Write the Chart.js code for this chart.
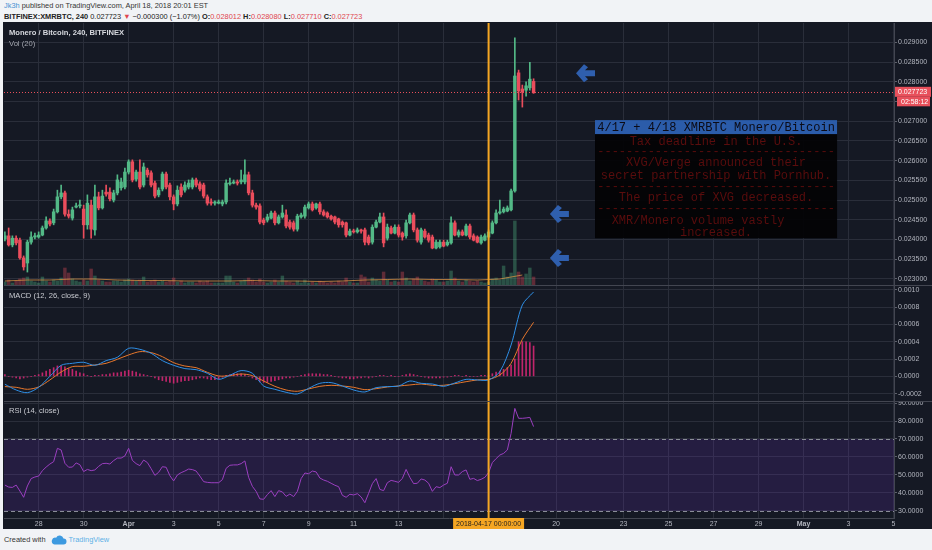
<!DOCTYPE html>
<html>
<head>
<meta charset="utf-8">
<script src="https://cdn.jsdelivr.net/npm/chart.js@4.4.0/dist/chart.umd.min.js"></script>
<style>
html, body { margin: 0; padding: 0; width: 932px; height: 550px; overflow: hidden; background: #f1f3f6; font-family: "Liberation Sans", Arial, sans-serif; }
#h1 { position: absolute; left: 4px; top: 1px; font-size: 7.4px; color: #333; white-space: nowrap; }
#h2 { position: absolute; left: 4px; top: 12px; font-size: 7.4px; color: #222; white-space: nowrap; }
#h2 .r { color: #e0464e; }
#frame { position: absolute; left: 3px; top: 22px; width: 929px; height: 507px; background: #151924; }
.pane { position: absolute; left: 4px; width: 928px; }
#pricePane { top: 23px; height: 263px; }
#macdPane { top: 286px; height: 116px; }
#rsiPane { top: 402px; height: 127px; }
#foot { position: absolute; left: 4px; top: 535px; font-size: 7.4px; color: #333; white-space: nowrap; }
#foot svg { vertical-align: middle; margin: 0 2px 0 5px; }
#foot .tv { color: #5cb0e6; }
</style>
</head>
<body>
<div id="h1"><span style="color:#3f8fd2">Jk3h</span> published on TradingView.com, April 18, 2018 20:01 EST</div>
<div id="h2"><b>BITFINEX:XMRBTC, 240</b> 0.027723 <span class="r">▼</span> −0.000300 (−1.07%) <b>O:</b><span class="r">0.028012</span> <b>H:</b><span class="r">0.028080</span> <b>L:</b><span class="r">0.027710</span> <b>C:</b><span class="r">0.027723</span></div>
<div id="frame"></div>
<div class="pane" id="pricePane"><canvas id="price"></canvas></div>
<div class="pane" id="macdPane"><canvas id="macd"></canvas></div>
<div class="pane" id="rsiPane"><canvas id="rsi"></canvas></div>
<div id="foot">Created with<svg width="16" height="10" viewBox="0 0 16 10"><path d="M3.5 9.5h9a3 3 0 0 0 0-6 4 4 0 0 0-7.4-.8A3.2 3.2 0 0 0 3.5 9.5z" fill="#3d9ae0"/></svg><span class="tv">TradingView</span></div>

<script>
// days counted from 2018-03-26 00:00, one candle every 4 hours
const firstCandleDay = 0.5;
const candleStep = 1 / 6;

const opens = [
  0.02401,0.02409,0.02386,0.02403,0.02398,0.02353,0.02340,0.02393,0.02406,0.02406,
  0.02411,0.02429,0.02447,0.02442,0.02470,0.02508,0.02518,0.02464,0.02454,0.02482,
  0.02485,0.02477,0.02437,0.02487,0.02424,0.02508,0.02480,0.02520,0.02520,0.02500,
  0.02518,0.02531,0.02533,0.02571,0.02597,0.02553,0.02571,0.02538,0.02576,0.02569,
  0.02543,0.02513,0.02528,0.02566,0.02538,0.02508,0.02490,0.02533,0.02525,0.02533,
  0.02533,0.02551,0.02541,0.02538,0.02508,0.02495,0.02492,0.02492,0.02490,0.02495,
  0.02541,0.02543,0.02546,0.02546,0.02546,0.02564,0.02518,0.02487,0.02485,0.02449,
  0.02449,0.02454,0.02467,0.02442,0.02457,0.02462,0.02444,0.02442,0.02426,0.02457,
  0.02459,0.02480,0.02490,0.02480,0.02490,0.02470,0.02467,0.02459,0.02457,0.02452,
  0.02444,0.02442,0.02411,0.02421,0.02419,0.02424,0.02424,0.02406,0.02393,0.02431,
  0.02444,0.02457,0.02403,0.02429,0.02416,0.02431,0.02416,0.02409,0.02442,0.02462,
  0.02424,0.02393,0.02421,0.02411,0.02406,0.02378,0.02381,0.02393,0.02386,0.02391,
  0.02442,0.02411,0.02419,0.02411,0.02434,0.02409,0.02406,0.02391,0.02398,0.02406,
  0.02416,0.02442,0.02467,0.02470,0.02472,0.02475,0.02523,0.02823,0.02782,0.02779,
  0.02785,0.028012
];
const highs = [
  0.02419,0.02429,0.02409,0.02409,0.02403,0.02358,0.02398,0.02419,0.02416,0.02419,
  0.02434,0.02457,0.02452,0.02477,0.02525,0.02538,0.02523,0.02475,0.02482,0.02492,
  0.02500,0.02487,0.02513,0.02500,0.02538,0.02520,0.02525,0.02538,0.02531,0.02525,
  0.02564,0.02556,0.02581,0.02602,0.02602,0.02576,0.02602,0.02594,0.02581,0.02574,
  0.02548,0.02531,0.02571,0.02571,0.02543,0.02513,0.02536,0.02541,0.02546,0.02551,
  0.02556,0.02556,0.02546,0.02543,0.02513,0.02503,0.02498,0.02500,0.02500,0.02551,
  0.02556,0.02551,0.02551,0.02576,0.02602,0.02571,0.02525,0.02492,0.02490,0.02454,
  0.02464,0.02472,0.02472,0.02462,0.02487,0.02475,0.02449,0.02447,0.02464,0.02467,
  0.02487,0.02495,0.02495,0.02492,0.02495,0.02475,0.02470,0.02462,0.02459,0.02454,
  0.02447,0.02444,0.02426,0.02426,0.02429,0.02426,0.02429,0.02411,0.02437,0.02449,
  0.02467,0.02467,0.02439,0.02434,0.02437,0.02437,0.02419,0.02449,0.02467,0.02467,
  0.02429,0.02429,0.02426,0.02416,0.02411,0.02398,0.02398,0.02398,0.02398,0.02457,
  0.02447,0.02424,0.02424,0.02439,0.02439,0.02414,0.02409,0.02411,0.02414,0.02424,
  0.02447,0.02475,0.02500,0.02482,0.02485,0.02528,0.02912,0.02830,0.02792,0.02800,
  0.02850,0.028080
];
const lows = [
  0.02396,0.02383,0.02381,0.02386,0.02350,0.02322,0.02317,0.02388,0.02401,0.02403,
  0.02409,0.02426,0.02434,0.02437,0.02467,0.02503,0.02459,0.02454,0.02449,0.02480,
  0.02480,0.02403,0.02426,0.02403,0.02411,0.02475,0.02477,0.02510,0.02498,0.02495,
  0.02513,0.02525,0.02528,0.02566,0.02546,0.02548,0.02528,0.02533,0.02558,0.02533,
  0.02505,0.02508,0.02523,0.02528,0.02500,0.02475,0.02485,0.02508,0.02520,0.02528,
  0.02528,0.02533,0.02523,0.02505,0.02487,0.02487,0.02487,0.02490,0.02485,0.02490,
  0.02538,0.02541,0.02538,0.02541,0.02541,0.02513,0.02482,0.02477,0.02439,0.02437,
  0.02444,0.02452,0.02437,0.02439,0.02454,0.02429,0.02426,0.02421,0.02421,0.02454,
  0.02454,0.02477,0.02472,0.02477,0.02464,0.02459,0.02454,0.02449,0.02439,0.02431,
  0.02431,0.02406,0.02409,0.02416,0.02416,0.02416,0.02386,0.02386,0.02388,0.02429,
  0.02442,0.02381,0.02398,0.02414,0.02414,0.02406,0.02398,0.02403,0.02439,0.02419,
  0.02393,0.02388,0.02403,0.02393,0.02376,0.02376,0.02378,0.02381,0.02383,0.02388,
  0.02409,0.02406,0.02409,0.02409,0.02401,0.02396,0.02391,0.02388,0.02396,0.02403,
  0.02414,0.02439,0.02464,0.02467,0.02470,0.02472,0.02520,0.02754,0.02736,0.02764,
  0.02779,0.027710
];
const closes = [
  0.02409,0.02386,0.02403,0.02391,0.02353,0.02330,0.02393,0.02406,0.02409,0.02411,
  0.02429,0.02447,0.02439,0.02470,0.02508,0.02518,0.02464,0.02459,0.02475,0.02485,
  0.02487,0.02437,0.02492,0.02426,0.02508,0.02480,0.02510,0.02515,0.02503,0.02518,
  0.02551,0.02546,0.02571,0.02597,0.02551,0.02571,0.02533,0.02584,0.02564,0.02538,
  0.02510,0.02525,0.02566,0.02533,0.02508,0.02490,0.02525,0.02513,0.02538,0.02543,
  0.02551,0.02538,0.02528,0.02510,0.02492,0.02492,0.02495,0.02495,0.02495,0.02543,
  0.02543,0.02546,0.02543,0.02551,0.02564,0.02518,0.02487,0.02482,0.02444,0.02442,
  0.02457,0.02467,0.02442,0.02457,0.02467,0.02434,0.02431,0.02426,0.02459,0.02462,
  0.02482,0.02490,0.02475,0.02490,0.02470,0.02462,0.02457,0.02452,0.02444,0.02437,
  0.02437,0.02411,0.02421,0.02419,0.02424,0.02421,0.02393,0.02391,0.02431,0.02444,
  0.02457,0.02391,0.02431,0.02416,0.02431,0.02411,0.02406,0.02442,0.02462,0.02424,
  0.02398,0.02424,0.02406,0.02398,0.02378,0.02393,0.02393,0.02383,0.02393,0.02442,
  0.02411,0.02419,0.02411,0.02434,0.02406,0.02398,0.02393,0.02406,0.02409,0.02419,
  0.02442,0.02467,0.02470,0.02477,0.02480,0.02523,0.02815,0.02777,0.02774,0.02790,
  0.02807,0.027723
];
// volume in thousand XMR
const volumesK = [
  4,6,3,5,7,8,9,5,4,3,
  9,5,4,6,5,8,18,13,7,5,
  4,6,5,17,10,6,5,4,4,5,
  5,4,6,7,6,5,6,9,4,5,
  6,4,5,4,5,8,4,5,3,4,
  4,3,5,4,5,3,3,3,3,10,
  10,4,3,5,6,8,6,4,7,4,
  3,4,6,4,10,5,4,3,5,3,
  6,3,4,3,5,4,3,4,3,5,
  4,8,4,3,3,11,9,4,8,6,
  5,14,6,4,5,4,14,8,5,7,
  9,6,5,4,7,6,4,4,5,15,
  8,5,4,6,5,4,5,4,3,4,
  7,8,6,20,9,13,65,14,9,12,
  18,9
];
// Vol (20) average, one value per day
const volMaK = [5,6,6,7,7,6,5.5,5.5,5,5,5,5.5,5,5,4.5,5,6,6.5,7,6.5,6.5,6,7,11];

// MACD and signal, one value every 3 candles (12 h)
const macdLine = [
  -0.000092,-0.000158,-0.000189,-0.000127,0,0.000127,0.000150,0.000162,0.000127,0.000181,
  0.000220,0.000324,0.000312,0.000266,0.000181,0.000127,0.000089,0.000077,0.000035,-0.000035,
  0.000012,0.000066,0.000035,-0.000112,-0.000150,-0.000185,-0.000204,-0.000139,-0.000081,-0.000073,
  -0.000112,-0.000158,-0.000181,-0.000131,-0.000119,-0.000112,-0.000054,-0.000081,-0.000089,-0.000116,
  -0.000077,-0.000035,-0.000042,-0.000042,0.000054,0.000362,0.000825,0.000975
];
const signalLine = [
  -0.000119,-0.000127,-0.000150,-0.000123,-0.000042,0.000050,0.000112,0.000116,0.000131,0.000150,
  0.000197,0.000247,0.000285,0.000274,0.000227,0.000158,0.000119,0.000100,0.000046,0.000004,
  0.000008,0.000027,0.000008,-0.000054,-0.000116,-0.000158,-0.000173,-0.000146,-0.000116,-0.000104,
  -0.000112,-0.000127,-0.000154,-0.000143,-0.000123,-0.000112,-0.000100,-0.000089,-0.000104,-0.000104,
  -0.000085,-0.000062,-0.000042,-0.000035,0.000015,0.000150,0.000428,0.000624
];
// histogram, one value per candle
const macdHist = [
  0.00002,0,-0.00001,-0.00002,-0.00003,-0.00002,-0.00001,0,0.00001,0.00002,
  0.00004,0.00006,0.00008,0.00010,0.00012,0.00012,0.00011,0.00009,0.00008,0.00006,
  0.00004,0.00003,0.00001,0,0.00001,0.00001,0.00002,0.00002,0.00003,0.00004,
  0.00004,0.00005,0.00006,0.00007,0.00006,0.00005,0.00003,0.00002,0.00001,0,
  -0.00002,-0.00004,-0.00005,-0.00006,-0.00007,-0.00008,-0.00007,-0.00006,-0.00005,-0.00005,
  -0.00004,-0.00003,-0.00002,-0.00002,-0.00003,-0.00004,-0.00004,-0.00003,-0.00001,0.00001,
  0.00002,0.00003,0.00003,0.00003,0.00002,0,-0.00002,-0.00004,-0.00006,-0.00007,
  -0.00007,-0.00006,-0.00005,-0.00004,-0.00003,-0.00002,-0.00002,-0.00001,0,0.00001,
  0.00002,0.00003,0.00003,0.00003,0.00003,0.00002,0.00002,0.00001,0,-0.00001,
  -0.00002,-0.00002,-0.00003,-0.00003,-0.00002,-0.00002,-0.00001,-0.00002,-0.00001,0,
  0.00001,0.00001,0,0.00001,0,0,0.00001,0.00002,0.00003,0.00002,
  0.00001,0,-0.00001,-0.00002,-0.00002,-0.00002,-0.00002,-0.00001,-0.00001,0,
  0.00001,0.00001,0,0.00001,0,0,0,0.00001,0.00001,0.00001,
  0.00003,0.00005,0.00006,0.00008,0.00010,0.00013,0.00020,0.00040,0.00040,0.00040,
  0.00039,0.00035
];
const rsi = [
  44.4,43.3,43.1,44.4,41.1,37.6,43.9,48.0,48.9,49.4,
  52.4,54.4,56.1,57.4,64.8,63.9,56.5,54.3,54.4,56.7,
  55.7,51.9,53.1,52.4,52.8,54.8,56.3,56.5,56.1,58.0,
  59.4,59.4,60.6,64.8,58.1,56.3,55.2,58.3,56.9,53.5,
  49.8,51.5,54.6,54.3,49.6,46.7,50.0,51.3,52.2,53.3,
  53.0,52.2,49.4,46.3,45.9,45.7,45.7,45.7,47.4,53.7,
  55.4,55.6,55.6,56.3,57.8,48.7,43.7,40.9,36.7,36.5,
  39.1,41.3,38.0,41.3,40.6,38.1,39.4,38.0,40.9,48.0,
  51.1,50.7,52.2,51.7,48.3,47.2,46.5,45.4,44.3,43.5,
  38.7,37.6,39.3,38.9,39.6,37.8,34.6,39.8,45.2,48.0,
  42.0,41.3,45.7,47.0,46.5,45.9,48.1,53.1,48.7,45.2,
  45.4,47.8,47.2,45.4,40.9,43.5,43.0,44.4,45.4,54.6,
  50.0,50.0,51.9,52.8,47.6,48.1,46.9,47.6,48.7,51.3,
  56.9,59.1,61.1,62.0,63.9,73.1,87.0,81.5,81.5,81.7,
  82.0,76.9
];

const xTickDays = [2,4,6,8,10,12,14,16,18,20,22,25,28,30,32,34,36,38,40];
const xTickLabels = ['28','30','Apr','3','5','7','9','11','13','','','20','23','25','27','29','May','3','5'];
const priceTicks = [0.023,0.0235,0.024,0.0245,0.025,0.0255,0.026,0.0265,0.027,0.0275,0.028,0.0285,0.029];
const macdTicks = [-0.0002,0,0.0002,0.0004,0.0006,0.0008,0.001];
const rsiTicks = [30,40,50,60,70,80,90];

const markerDay = 22;
const markerLabel = '2018-04-17 00:00:00';
const countdown = '02:58:12';
const noteTitle = '4/17 + 4/18 XMRBTC Monero/Bitcoin';
const noteLines = [
  'Tax deadline in the U.S.',
  '---------------------------------',
  'XVG/Verge announced their',
  'secret partnership with Pornhub.',
  '---------------------------------',
  'The price of XVG decreased.',
  '---------------------------------',
  'XMR/Monero volume vastly     ',
  'increased.'
];
// note box and arrows are placed in chart units (day, price)
const noteBox = { d0: 26.73, d1: 37.49, pTop: 0.02703, pBottom: 0.02403 };
const arrowSpots = [[26.33, 0.02822], [25.17, 0.024644], [25.17, 0.023527]];

const C = {
  grid: '#2a2e3a', sep: '#434651', text: '#b2b5be',
  up: '#53b987', down: '#eb4d5c',
  upVol: 'rgba(83,185,135,0.35)', downVol: 'rgba(235,77,92,0.35)',
  orange: '#f5a623', red: '#e8505b'
};
const FONT = '"Liberation Sans", Arial, sans-serif';
Chart.defaults.font.family = FONT;
Chart.defaults.color = C.text;

const candleDays = opens.map((_, i) => firstCandleDay + i * candleStep);
const candleColors = opens.map((o, i) => closes[i] >= o ? C.up : C.down);
const volColors = opens.map((o, i) => closes[i] >= o ? C.upVol : C.downVol);
const lastClose = closes[closes.length - 1];

function noPad(s) { s.paddingTop = 0; s.paddingBottom = 0; s.paddingLeft = 0; s.paddingRight = 0; }

function xScale(showLabels) {
  return {
    type: 'linear', min: 0.46, max: 40.02, offset: false,
    afterBuildTicks: s => { s.ticks = xTickDays.map(v => ({ value: v })); },
    afterFit: s => { s.height = showLabels ? 11 : 0; noPad(s); },
    grid: { color: C.grid, drawTicks: false, offset: false },
    border: { display: showLabels, color: C.sep },
    ticks: {
      display: showLabels, autoSkip: false, maxRotation: 0, padding: 2, color: C.text,
      font: c => ({ size: 7, weight: /[A-Za-z]/.test(xTickLabels[c.index] || '') ? 'bold' : 'normal' }),
      callback: (v, i) => xTickLabels[i]
    }
  };
}
function yScale(min, max, ticks, digits) {
  return {
    position: 'right', min, max,
    afterBuildTicks: s => { s.ticks = ticks.map(v => ({ value: v })); },
    afterFit: s => { s.width = 38; noPad(s); },
    grid: { color: C.grid, tickLength: 3, tickColor: '#5d606b' },
    border: { display: true, color: C.sep },
    ticks: { padding: 1, color: C.text, font: { size: 7 }, callback: v => v.toFixed(digits) }
  };
}
const base = {
  responsive: true, maintainAspectRatio: false, animation: false, events: [],
  layout: { padding: 0 },
  plugins: { legend: { display: false }, tooltip: { enabled: false } }
};

function drawMarker(ctx, x, a) {
  const xm = x.getPixelForValue(markerDay);
  ctx.fillStyle = C.orange;
  ctx.fillRect(xm - 1, a.top, 2, a.bottom - a.top);
}
function paneTitle(ctx, text, x, y, font, color) {
  ctx.font = font; ctx.fillStyle = color;
  ctx.textAlign = 'left'; ctx.textBaseline = 'middle';
  ctx.fillText(text, x, y);
}
function bottomSeparator(chart) {
  chart.ctx.fillStyle = C.sep;
  chart.ctx.fillRect(0, chart.height - 1, chart.width, 1);
}
function drawArrow(ctx, cx, cy) {
  ctx.fillStyle = '#2f5fae';
  ctx.beginPath();
  ctx.moveTo(cx - 10, cy);
  ctx.lineTo(cx - 2, cy - 9);
  ctx.lineTo(cx + 2, cy - 6);
  ctx.lineTo(cx - 1, cy - 3);
  ctx.lineTo(cx + 9, cy - 3);
  ctx.lineTo(cx + 9, cy + 3);
  ctx.lineTo(cx - 1, cy + 3);
  ctx.lineTo(cx + 2, cy + 6);
  ctx.lineTo(cx - 2, cy + 9);
  ctx.closePath();
  ctx.fill();
}

const pricePlugin = {
  id: 'priceDecor',
  afterDatasetsDraw(chart) {
    const { ctx, chartArea: a, scales: { x, y } } = chart;
    ctx.save();
    const yl = Math.round(y.getPixelForValue(lastClose)) - 0.5;
    ctx.strokeStyle = C.red; ctx.lineWidth = 1; ctx.setLineDash([1, 2]);
    ctx.beginPath(); ctx.moveTo(a.left, yl); ctx.lineTo(a.right, yl); ctx.stroke();
    ctx.setLineDash([]);
    drawMarker(ctx, x, a);
    paneTitle(ctx, 'Monero / Bitcoin, 240, BITFINEX', a.left + 5, a.top + 10, '600 7.6px ' + FONT, '#d6d8de');
    paneTitle(ctx, 'Vol (20)', a.left + 5, a.top + 21, '7.6px ' + FONT, '#a3a6af');

    // note box
    const bx0 = x.getPixelForValue(noteBox.d0), bx1 = x.getPixelForValue(noteBox.d1);
    const by0 = y.getPixelForValue(noteBox.pTop), by1 = y.getPixelForValue(noteBox.pBottom);
    ctx.fillStyle = 'rgba(3,3,5,0.95)';
    ctx.fillRect(bx0, by0, bx1 - bx0, by1 - by0);
    ctx.fillStyle = '#2b5caa';
    ctx.fillRect(bx0, by0, bx1 - bx0, 14);
    const cx = (bx0 + bx1) / 2;
    ctx.font = '12px "Liberation Mono", "DejaVu Sans Mono", monospace';
    ctx.textAlign = 'center'; ctx.textBaseline = 'middle';
    ctx.fillStyle = '#0b0b16';
    ctx.fillText(noteTitle, cx, by0 + 7.5);
    ctx.fillStyle = '#5a0d0d';
    const offsets = [22, 32, 43, 56, 67, 78, 89, 101, 113];
    noteLines.forEach((t, i) => ctx.fillText(t, cx, by0 + offsets[i]));

    arrowSpots.forEach(([d, p]) => drawArrow(ctx, x.getPixelForValue(d), y.getPixelForValue(p)));
    ctx.restore();
  },
  afterDraw(chart) {
    const { ctx, chartArea: a, scales: { y } } = chart;
    ctx.save();
    const yl = y.getPixelForValue(lastClose) - 1;
    ctx.fillStyle = C.red;
    ctx.fillRect(a.right + 1, yl - 5, chart.width - a.right - 2, 10);
    ctx.fillRect(a.right + 3, yl + 5, chart.width - a.right - 5, 9.5);
    ctx.fillStyle = '#fff'; ctx.font = '7px ' + FONT;
    ctx.textAlign = 'left'; ctx.textBaseline = 'middle';
    ctx.fillText(lastClose.toFixed(6), a.right + 4, yl);
    ctx.fillText(countdown, a.right + 7, yl + 9.8);
    bottomSeparator(chart);
    ctx.restore();
  }
};

new Chart(document.getElementById('price'), {
  type: 'bar',
  data: {
    datasets: [
      { type: 'bar', label: 'Bodies', order: 1, yAxisID: 'y', grouped: false,
        data: candleDays.map((d, i) => ({ x: d, y: [opens[i], closes[i]] })),
        backgroundColor: candleColors, barThickness: 2.8, minBarLength: 1 },
      { type: 'bar', label: 'Wicks', order: 2, yAxisID: 'y', grouped: false,
        data: candleDays.map((d, i) => ({ x: d, y: [lows[i], highs[i]] })),
        backgroundColor: candleColors, barThickness: 1 },
      { type: 'line', label: 'Vol MA', order: 3, yAxisID: 'yv',
        data: volMaK.map((v, k) => ({ x: firstCandleDay + k, y: v })),
        borderColor: 'rgba(222,150,70,0.75)', borderWidth: 1, pointRadius: 0, tension: 0 },
      { type: 'bar', label: 'Volume', order: 4, yAxisID: 'yv', grouped: false,
        data: candleDays.map((d, i) => ({ x: d, y: volumesK[i] })),
        backgroundColor: volColors, barThickness: 2.8 }
    ]
  },
  options: Object.assign({}, base, {
    scales: {
      x: xScale(false),
      y: yScale(0.022816, 0.029496, priceTicks, 6),
      yv: { display: false, min: 0, max: 263 }
    }
  }),
  plugins: [pricePlugin]
});

const macdPlugin = {
  id: 'macdDecor',
  afterDatasetsDraw(chart) {
    const { ctx, chartArea: a, scales: { x } } = chart;
    ctx.save();
    drawMarker(ctx, x, a);
    paneTitle(ctx, 'MACD (12, 26, close, 9)', a.left + 5, a.top + 10, '7.6px ' + FONT, '#c8cad0');
    ctx.restore();
  },
  afterDraw(chart) { chart.ctx.save(); bottomSeparator(chart); chart.ctx.restore(); }
};

new Chart(document.getElementById('macd'), {
  type: 'bar',
  data: {
    datasets: [
      { type: 'line', label: 'MACD', order: 1,
        data: macdLine.map((v, k) => ({ x: firstCandleDay + 3 * k * candleStep, y: v })),
        borderColor: '#2f8fe6', borderWidth: 1, pointRadius: 0, tension: 0.3 },
      { type: 'line', label: 'Signal', order: 2,
        data: signalLine.map((v, k) => ({ x: firstCandleDay + 3 * k * candleStep, y: v })),
        borderColor: '#e9782c', borderWidth: 1, pointRadius: 0, tension: 0.3 },
      { type: 'bar', label: 'Histogram', order: 3, grouped: false,
        data: candleDays.map((d, i) => ({ x: d, y: macdHist[i] })),
        backgroundColor: 'rgba(222,40,120,0.85)', barThickness: 1 }
    ]
  },
  options: Object.assign({}, base, {
    scales: { x: xScale(false), y: yScale(-0.000297, 0.001044, macdTicks, 4) }
  }),
  plugins: [macdPlugin]
});

const rsiPlugin = {
  id: 'rsiDecor',
  beforeDatasetsDraw(chart) {
    const { ctx, chartArea: a, scales: { y } } = chart;
    ctx.save();
    const y70 = y.getPixelForValue(70), y30 = y.getPixelForValue(30);
    ctx.fillStyle = 'rgba(110,50,200,0.18)';
    ctx.fillRect(a.left, y70, a.right - a.left, y30 - y70);
    ctx.strokeStyle = '#8a8d98'; ctx.lineWidth = 1; ctx.setLineDash([4, 3]);
    [y70, y30].forEach(v => {
      ctx.beginPath(); ctx.moveTo(a.left, Math.round(v) + 0.5); ctx.lineTo(a.right, Math.round(v) + 0.5); ctx.stroke();
    });
    ctx.restore();
  },
  afterDatasetsDraw(chart) {
    const { ctx, chartArea: a, scales: { x } } = chart;
    ctx.save();
    drawMarker(ctx, x, a);
    paneTitle(ctx, 'RSI (14, close)', a.left + 5, a.top + 9, '7.6px ' + FONT, '#c8cad0');
    ctx.restore();
  },
  afterDraw(chart) {
    const { ctx, chartArea: a, scales: { x } } = chart;
    ctx.save();
    const xm = x.getPixelForValue(markerDay);
    ctx.font = '7px ' + FONT;
    const w = ctx.measureText(markerLabel).width + 6;
    ctx.fillStyle = C.orange;
    ctx.fillRect(xm - w / 2, a.bottom, w, chart.height - a.bottom);
    ctx.fillStyle = '#1e1e1e'; ctx.textAlign = 'center'; ctx.textBaseline = 'middle';
    ctx.fillText(markerLabel, xm, a.bottom + 6);
    ctx.restore();
  }
};

new Chart(document.getElementById('rsi'), {
  type: 'line',
  data: {
    datasets: [
      { label: 'RSI', data: candleDays.map((d, i) => ({ x: d, y: rsi[i] })),
        borderColor: '#9b3fc0', borderWidth: 1, pointRadius: 0, tension: 0 }
    ]
  },
  options: Object.assign({}, base, {
    scales: { x: xScale(true), y: yScale(26.1, 90.56, rsiTicks, 4) }
  }),
  plugins: [rsiPlugin]
});
</script>
</body>
</html>
